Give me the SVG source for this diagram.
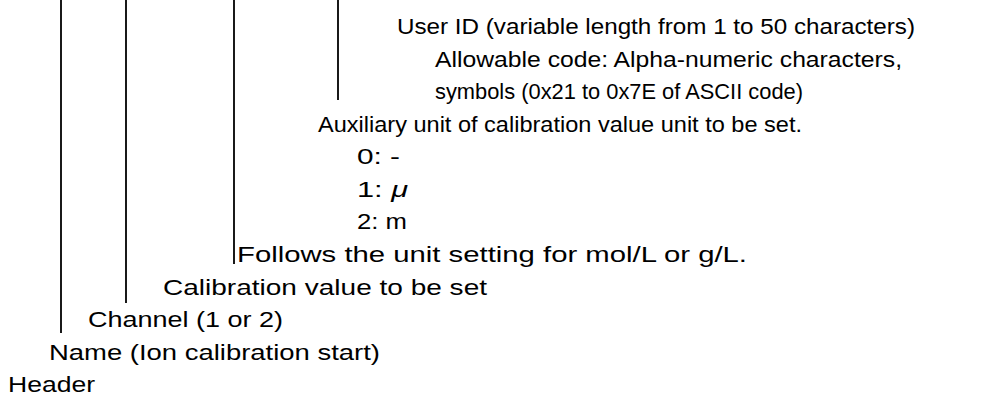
<svg xmlns="http://www.w3.org/2000/svg" width="997" height="396" viewBox="0 0 997 396">
<style>
.t{font-family:"Liberation Sans","Noto Sans",sans-serif;font-size:22px;fill:#000}
.c{stroke:#000;stroke-width:1.8;fill:none}
</style>
<rect width="997" height="396" fill="#fff"/>
<g id="connectors">
<line class="c" x1="61" y1="0" x2="61" y2="333"/>
<line class="c" x1="126" y1="0" x2="126" y2="303"/>
<line class="c" x1="234" y1="0" x2="234" y2="264"/>
<line class="c" x1="338" y1="0" x2="338" y2="100"/>
</g>
<g id="userid"><text class="t" x="397" y="34" textLength="518" lengthAdjust="spacingAndGlyphs">User ID (variable length from 1 to 50 characters)</text></g>
<g id="allowable"><text class="t" x="435" y="66.5" textLength="467" lengthAdjust="spacingAndGlyphs">Allowable code: Alpha-numeric characters,</text></g>
<g id="symbols"><text class="t" x="435" y="99" textLength="368" lengthAdjust="spacingAndGlyphs">symbols (0x21 to 0x7E of ASCII code)</text></g>
<g id="auxiliary"><text class="t" x="318" y="131.5" textLength="484" lengthAdjust="spacingAndGlyphs">Auxiliary unit of calibration value unit to be set.</text></g>
<g id="opt0"><text class="t" x="357" y="164" textLength="43" lengthAdjust="spacingAndGlyphs">0: -</text></g>
<g id="opt1"><text class="t" x="357" y="196.5" textLength="51" lengthAdjust="spacingAndGlyphs">1:  <tspan font-style="italic">μ</tspan></text></g>
<g id="opt2"><text class="t" x="357" y="229" textLength="50" lengthAdjust="spacingAndGlyphs">2: m</text></g>
<g id="follows"><text class="t" x="237" y="262" textLength="510" lengthAdjust="spacingAndGlyphs">Follows the unit setting for mol/L or g/L.</text></g>
<g id="calibration"><text class="t" x="163" y="294.5" textLength="324" lengthAdjust="spacingAndGlyphs">Calibration value to be set</text></g>
<g id="channel"><text class="t" x="88" y="327" textLength="195" lengthAdjust="spacingAndGlyphs">Channel (1 or 2)</text></g>
<g id="name"><text class="t" x="49" y="360" textLength="331" lengthAdjust="spacingAndGlyphs">Name (Ion calibration start)</text></g>
<g id="header"><text class="t" x="8" y="392" textLength="87" lengthAdjust="spacingAndGlyphs">Header</text></g>
</svg>
